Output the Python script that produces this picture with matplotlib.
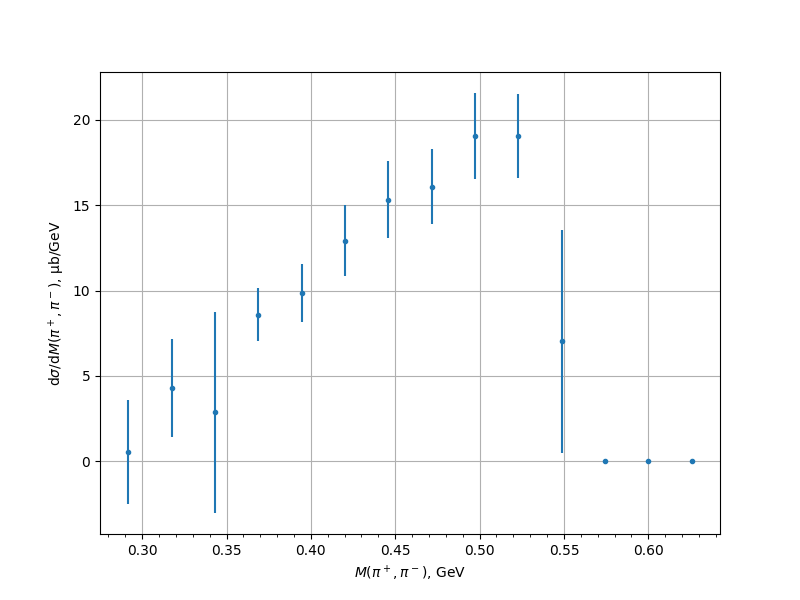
import matplotlib
matplotlib.use("Agg")
import matplotlib.pyplot as plt
from matplotlib.ticker import MultipleLocator

mass = [0.2917, 0.3178, 0.3433, 0.3688, 0.3949, 0.4204, 0.4459, 0.4719,
        0.4975, 0.5230, 0.5488, 0.5745, 0.6000, 0.6258]
xsec = [0.53, 4.27, 2.87, 8.60, 9.88, 12.92, 15.32, 16.08,
        19.06, 19.06, 7.02, 0.0, 0.0, 0.0]
err = [3.05, 2.87, 5.90, 1.55, 1.70, 2.07, 2.25, 2.20,
       2.52, 2.45, 6.53, 0.0, 0.0, 0.0]

fig, ax = plt.subplots(figsize=(8, 6), dpi=100)
ax.errorbar(mass, xsec, yerr=err, fmt='o', ms=3, color='#1f77b4')
ax.set_xlabel(r'$M(\pi^+,\pi^-)$, GeV')
ax.set_ylabel(r'd$\sigma$/d$M(\pi^+,\pi^-)$, μb/GeV')
ax.xaxis.set_minor_locator(MultipleLocator(0.01))
ax.grid(True)
fig.savefig('out.png')
